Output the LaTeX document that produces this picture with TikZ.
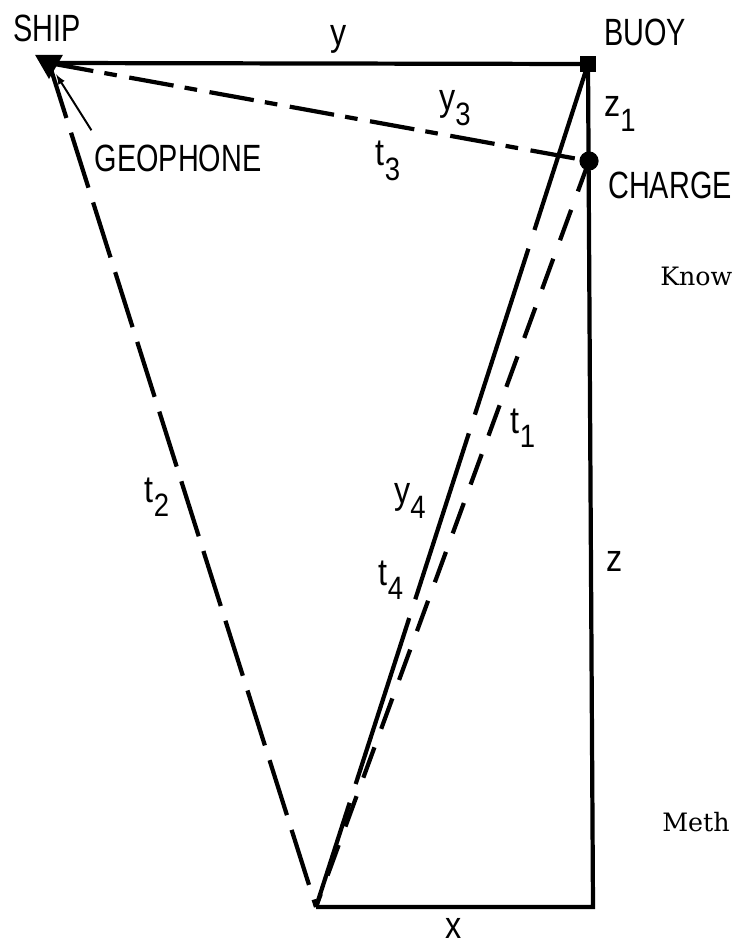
\documentclass[tikz,border=0pt]{standalone}
\usepackage{fontspec}
\usepackage{tikz}
\usetikzlibrary{shapes,arrows,positioning,calc}
\newfontfamily\labelfont{Liberation Sans}
\newfontfamily\pagefont{DejaVu Serif}
\newcommand{\lowidx}[1]{\raisebox{-0.38em}{\fontsize{23}{25}\selectfont #1}}

\begin{document}
\begin{tikzpicture}[x=0.025cm, y=-0.025cm]
    \tikzset{
        tag/.style={font=\labelfont\fontsize{27}{30}\selectfont, inner sep=0pt, xscale=0.76},
        mathtag/.style={font=\labelfont\fontsize{27}{30}\selectfont, inner sep=0pt, xscale=0.85},
        pagetext/.style={font=\pagefont\fontsize{18}{22}\selectfont, inner sep=0pt, anchor=west},
        wire/.style={line width=3pt},
        longdash/.style={wire, dash pattern=on 41pt off 11pt},
        raydash/.style={wire, dash pattern=on 124pt off 14pt},
        shortdash/.style={wire, dash pattern=on 23pt off 14pt},
        dotdash/.style={wire, dash pattern=on 32pt off 8pt on 9pt off 9pt},
        pointer/.style={line width=1.4pt, -latex, shorten >=3pt}
    }
    \useasboundingbox (0,0) rectangle (736,946);

    % Markers
    \node[regular polygon, regular polygon sides=3, shape border rotate=180, fill=black, inner sep=0pt, minimum size=0.8cm] (ship) at (49,63) {};
    \node[rectangle, fill=black, inner sep=0pt, minimum size=0.4cm] (buoy) at (588,64) {};
    \node[circle, fill=black, inner sep=0pt, minimum size=0.48cm] (charge) at (589,161) {};
    \coordinate (bot) at (316,907);
    \coordinate (corner) at (593,907);

    % Lines
    \draw[wire] (ship.center) -- (buoy.center);
    \draw[wire] (buoy.center) -- (corner) -- (bot);
    \draw[longdash] (ship.center) -- (bot);
    \draw[raydash] (buoy.center) -- (bot);
    \draw[shortdash] (charge.center) -- (bot);
    \draw[dotdash] (ship.center) -- (charge.center);

    % Labels
    \node[tag] (lblship) at (47,28) {SHIP};
    \node[tag] (lblbuoy) at (645,32) {BUOY};
    \node[tag] (lblcharge) at (670,185) {CHARGE};
    \node[tag] (lblgeo) at (178,158) {GEOPHONE};
    \draw[pointer] ([shift={(-3,-14)}]lblgeo.north west) -- (ship);

    \node[mathtag] (lbly) at (339,39) {y};
    \node[mathtag] (lblzone) at (620,114) {z\lowidx{1}};
    \node[mathtag] (lblythree) at (455,108) {y\lowidx{3}};
    \node[mathtag] (lbltthree) at (388,161) {t\lowidx{3}};
    \node[mathtag] (lbltone) at (523,428) {t\lowidx{1}};
    \node[mathtag] (lblyfour) at (410,501) {y\lowidx{4}};
    \node[mathtag] (lbltfour) at (391,580) {t\lowidx{4}};
    \node[mathtag] (lblttwo) at (157,497) {t\lowidx{2}};
    \node[mathtag] (lblz) at (615,561) {z};
    \node[mathtag] (lblx) at (454,928) {x};

    % Page text at the right edge
    \node[pagetext] (know) at (660,276) {Know};
    \node[pagetext] (meth) at (662,822) {Meth};
\end{tikzpicture}
\end{document}
